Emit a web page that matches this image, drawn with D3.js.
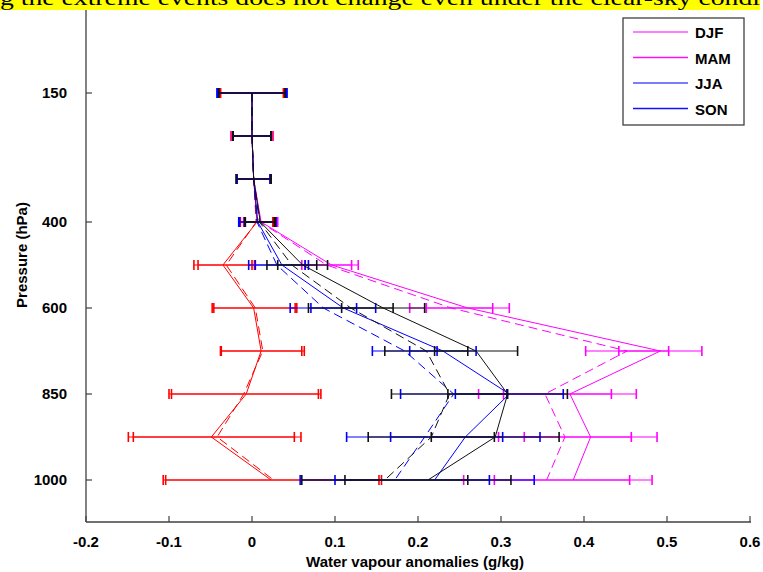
<!DOCTYPE html>
<html lang="en">
<head>
    <meta charset="UTF-8">
    <title>Water vapour anomalies</title>
    <script src="https://d3js.org/d3.v7.min.js"></script>
    <style>
        body { margin: 0; background: #ffffff; }
        text { font-family: "Liberation Sans", Arial, sans-serif; font-weight: bold; }
    </style>
</head>
<body>
<svg id="chart" width="763" height="572"></svg>
<script>
    // pressure levels (evenly spaced on the plot)
    const levels = [150, 200, 300, 400, 500, 600, 700, 850, 925, 1000];
    const tickLevels = [150, 400, 600, 850, 1000];
    const xTicks = [-0.2, -0.1, 0, 0.1, 0.2, 0.3, 0.4, 0.5, 0.6];

    // profiles (g/kg)
    const redSolid = [0, 0, 0.002, 0.006, -0.035, 0.002, 0.011, -0.007, -0.049, 0.023];
    const redDashed = [0, 0, 0.002, 0.005, -0.031, 0.004, 0.013, -0.010, -0.042, 0.026];
    const redSolidErr = [0.038, 0.025, 0.02, 0.02, 0.035, 0.05, 0.049, 0.09, 0.1, 0.13];
    const redDashedErr = [0.038, 0.025, 0.02, 0.02, 0.034, 0.05, 0.05, 0.09, 0.101, 0.13];

    const blackSolid = [0, 0, 0.002, 0.01, 0.061, 0.158, 0.27, 0.308, 0.293, 0.212];
    const blackDashed = [0, 0, 0.002, 0.009, 0.048, 0.119, 0.21, 0.238, 0.216, 0.16];
    const blackSolidErr = [0.04, 0.023, 0.021, 0.018, 0.03, 0.05, 0.05, 0.072, 0.077, 0.1];
    const blackDashedErr = [0.04, 0.023, 0.021, 0.018, 0.03, 0.051, 0.05, 0.07, 0.076, 0.1];

    const blueSolid = [0, 0, 0.002, 0.007, 0.036, 0.11, 0.23, 0.31, 0.257, 0.22];
    const blueDashed = [0, 0, 0.002, 0.006, 0.03, 0.086, 0.184, 0.243, 0.208, 0.172];
    const blueSolidErr = [0.042, 0.023, 0.02, 0.022, 0.032, 0.039, 0.04, 0.065, 0.09, 0.12];
    const blueDashedErr = [0.042, 0.023, 0.02, 0.022, 0.034, 0.04, 0.039, 0.064, 0.094, 0.114];

    const magentaSolid = [0, 0, 0.002, 0.011, 0.096, 0.26, 0.492, 0.383, 0.408, 0.387];
    const magentaDashed = [0, 0, 0.002, 0.01, 0.09, 0.24, 0.452, 0.353, 0.377, 0.355];
    const magentaSolidErr = [0.04, 0.024, 0.02, 0.02, 0.032, 0.05, 0.05, 0.08, 0.08, 0.095];
    const magentaDashedErr = [0.04, 0.024, 0.02, 0.02, 0.03, 0.05, 0.05, 0.08, 0.08, 0.1];

    const legendNames = ["DJF", "MAM", "JJA", "SON"];
    const legendColors = ["#ff50ff", "#ff10f0", "#5050ff", "#1010ff"];

    // drawing order: later ones sit on top
    const series = [
        { vals: redDashed, err: redDashedErr, color: "#ff0000", dash: true },
        { vals: redSolid, err: redSolidErr, color: "#ff0000", dash: false },
        { vals: magentaDashed, err: magentaDashedErr, color: "#ff00ff", dash: true },
        { vals: magentaSolid, err: magentaSolidErr, color: "#ff00ff", dash: false },
        { vals: blueDashed, err: blueDashedErr, color: "#0000ff", dash: true },
        { vals: blueSolid, err: blueSolidErr, color: "#0000ff", dash: false },
        { vals: blackDashed, err: blackDashedErr, color: "#111111", dash: true },
        { vals: blackSolid, err: blackSolidErr, color: "#111111", dash: false }
    ];

    const svg = d3.select("#chart");

    const x = d3.scaleLinear().domain([-0.2, 0.6]).range([86, 750]);
    // level index -> pixel
    const y = d3.scaleLinear().domain([-2, 10]).range([7, 523]);
    const yl = p => y(levels.indexOf(p));

    const axisColor = "#404040";

    // axes (box off, ticks inside)
    svg.append("line").attr("x1", 86).attr("x2", 86).attr("y1", 0).attr("y2", 522)
        .attr("stroke", axisColor).attr("stroke-width", 1.3);
    svg.append("line").attr("x1", 86).attr("x2", 751).attr("y1", 522).attr("y2", 522)
        .attr("stroke", axisColor).attr("stroke-width", 1.3);

    svg.selectAll(".xtick").data(xTicks).enter().append("line")
        .attr("x1", d => x(d)).attr("x2", d => x(d))
        .attr("y1", 522).attr("y2", 516)
        .attr("stroke", axisColor).attr("stroke-width", 1.2);
    svg.selectAll(".xlab").data(xTicks).enter().append("text")
        .attr("x", d => x(d)).attr("y", 547)
        .attr("text-anchor", "middle").style("font-size", "15px")
        .text(d => String(d));

    svg.selectAll(".ytick").data(tickLevels).enter().append("line")
        .attr("x1", 86).attr("x2", 92)
        .attr("y1", d => yl(d)).attr("y2", d => yl(d))
        .attr("stroke", axisColor).attr("stroke-width", 1.2);
    svg.selectAll(".ylab").data(tickLevels).enter().append("text")
        .attr("x", 67).attr("y", d => yl(d) + 5)
        .attr("text-anchor", "end").style("font-size", "15px")
        .text(d => d);

    svg.append("text")
        .attr("x", 415).attr("y", 567)
        .attr("text-anchor", "middle").style("font-size", "15px")
        .text("Water vapour anomalies (g/kg)");
    svg.append("text")
        .attr("transform", "translate(27,255) rotate(-90)")
        .attr("text-anchor", "middle").style("font-size", "15px")
        .text("Pressure (hPa)");

    // profiles and error bars
    const line = d3.line().x(d => x(d.v)).y(d => yl(d.p));

    series.forEach(s => {
        const pts = levels.map((p, i) => ({ p: p, v: s.vals[i], e: s.err[i] }));
        const g = svg.append("g");
        g.append("path")
            .datum(pts)
            .attr("d", line)
            .attr("fill", "none")
            .attr("stroke", s.color)
            .attr("stroke-width", 1)
            .attr("stroke-dasharray", s.dash ? "9,5" : null);

        g.selectAll(".bar").data(pts).enter().append("line")
            .attr("x1", d => x(d.v - d.e)).attr("x2", d => x(d.v + d.e))
            .attr("y1", d => yl(d.p)).attr("y2", d => yl(d.p))
            .attr("stroke", s.color).attr("stroke-width", 1.2);
        [-1, 1].forEach(sign => {
            g.selectAll(".cap" + sign).data(pts).enter().append("line")
                .attr("x1", d => x(d.v + sign * d.e)).attr("x2", d => x(d.v + sign * d.e))
                .attr("y1", d => yl(d.p) - 5).attr("y2", d => yl(d.p) + 5)
                .attr("stroke", s.color).attr("stroke-width", 1.6);
        });
    });

    // legend
    const lg = svg.append("g");
    lg.append("rect")
        .attr("x", 623).attr("y", 18).attr("width", 121).attr("height", 107)
        .attr("fill", "#ffffff").attr("stroke", "#404040").attr("stroke-width", 1.3);
    legendNames.forEach((name, i) => {
        const ry = 32 + i * 25.5;
        lg.append("line").attr("x1", 633).attr("x2", 688).attr("y1", ry).attr("y2", ry)
            .attr("stroke", legendColors[i]).attr("stroke-width", 1.3);
        lg.append("text").attr("x", 695).attr("y", ry + 6)
            .style("font-size", "15px").text(name);
    });

    // highlighted text strip from the page the figure was cut out of
    svg.append("rect").attr("x", 0).attr("y", 0).attr("width", 760).attr("height", 10)
        .attr("fill", "#ffff00");
    svg.append("text")
        .attr("x", 0).attr("y", 5)
        .attr("textLength", 760)
        .attr("lengthAdjust", "spacingAndGlyphs")
        .style("font-family", "'Liberation Serif', 'Times New Roman', serif")
        .style("font-weight", "normal")
        .style("font-size", "21px")
        .text("g the extreme events does not change even under the clear-sky condi");
</script>
</body>
</html>
